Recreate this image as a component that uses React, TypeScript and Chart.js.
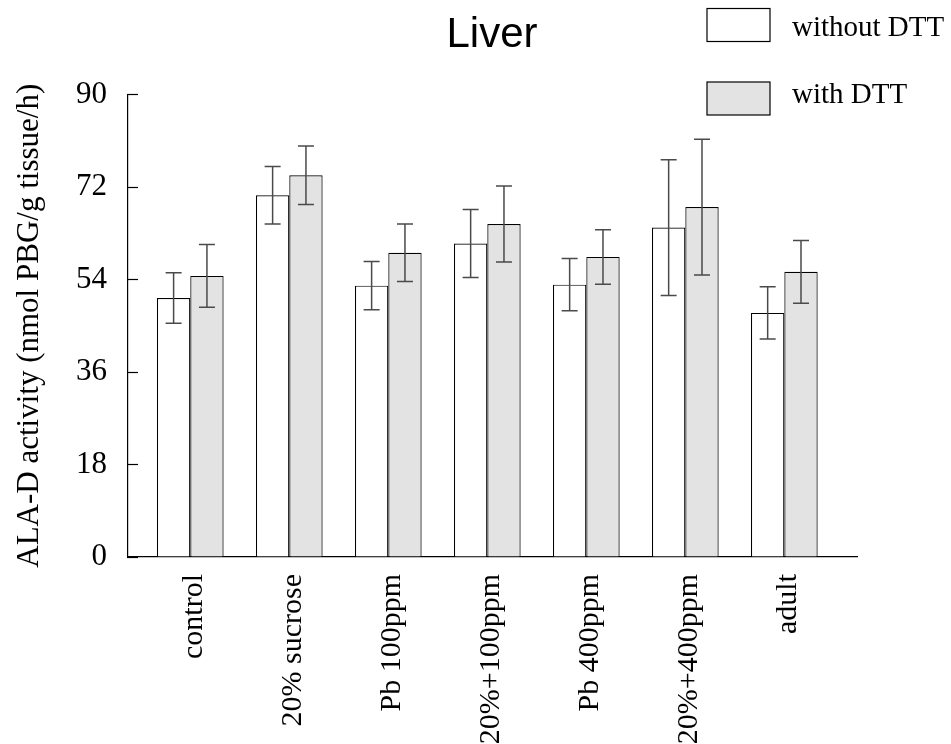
import { useEffect, useRef } from 'react';
import { Chart, registerables } from 'chart.js';

Chart.register(...registerables);

// Treatment groups along the x axis
const categories = ['control', '20% sucrose', 'Pb 100ppm', '20%+100ppm', 'Pb 400ppm', '20%+400ppm', 'adult'];

// Mean ALA-D activity and its error (± SD) for each treatment
const withoutDTT = [50.4, 70.4, 52.8, 61.0, 53.0, 64.1, 47.5];
const withoutDTTErr = [4.9, 5.6, 4.7, 6.6, 5.1, 13.2, 5.1];
const withDTT = [54.7, 74.3, 59.2, 64.8, 58.4, 68.1, 55.5];
const withDTTErr = [6.1, 5.7, 5.6, 7.4, 5.3, 13.2, 6.1];

const seriesLabels = ['without DTT', 'with DTT'];
const seriesFill = ['#ffffff', '#e3e3e3'];
const errorSets = [withoutDTTErr, withDTTErr];

const yMin = 0;
const yMax = 90;
const yStep = 18;

const chartTitle = 'Liver';
const yTitle = 'ALA-D activity (nmol PBG/g tissue/h)';

const SERIF = "'Liberation Serif', 'Times New Roman', serif";
const SANS = "'Liberation Sans', Arial, sans-serif";

// Vertical error bars with caps, centred on each bar
const errorBarsPlugin = {
  id: 'errorBars',
  afterDatasetsDraw(chart: any) {
    const { ctx } = chart;
    const y = chart.scales.y;
    ctx.save();
    ctx.strokeStyle = '#4a4a4a';
    ctx.lineWidth = 1.5;
    chart.data.datasets.forEach((ds: any, di: number) => {
      const meta = chart.getDatasetMeta(di);
      const errs = errorSets[di];
      meta.data.forEach((bar: any, i: number) => {
        const v = ds.data[i].y;
        const top = y.getPixelForValue(v + errs[i]);
        const bot = y.getPixelForValue(v - errs[i]);
        const cx = bar.x;
        const cap = 8;
        ctx.beginPath();
        ctx.moveTo(cx, top);
        ctx.lineTo(cx, bot);
        ctx.moveTo(cx - cap, top);
        ctx.lineTo(cx + cap, top);
        ctx.moveTo(cx - cap, bot);
        ctx.lineTo(cx + cap, bot);
        ctx.stroke();
      });
    });
    ctx.restore();
  },
};

// Chart heading and the boxed legend in the upper right corner
const headingPlugin = {
  id: 'heading',
  afterDraw(chart: any) {
    const { ctx } = chart;
    ctx.save();
    ctx.fillStyle = '#000';
    ctx.font = `42px ${SANS}`;
    ctx.textAlign = 'center';
    ctx.textBaseline = 'alphabetic';
    ctx.fillText(chartTitle, 492, 47);

    const boxX = 707;
    const boxW = 63;
    const boxH = 33;
    const rows = [8.5, 82];
    const baselines = [36, 103];
    chart.data.datasets.forEach((ds: any, i: number) => {
      ctx.fillStyle = ds.backgroundColor;
      ctx.fillRect(boxX, rows[i], boxW, boxH);
      ctx.strokeStyle = '#000';
      ctx.lineWidth = 1.2;
      ctx.strokeRect(boxX, rows[i], boxW, boxH);
      ctx.fillStyle = '#000';
      ctx.font = `29px ${SERIF}`;
      ctx.textAlign = 'left';
      ctx.fillText(ds.label, 792, baselines[i]);
    });
    ctx.restore();
  },
};

export default function App() {
  const canvasRef = useRef<HTMLCanvasElement | null>(null);

  useEffect(() => {
    const canvas = canvasRef.current;
    if (!canvas) return;

    const datasets = [withoutDTT, withDTT].map((values, si) => ({
      label: seriesLabels[si],
      data: values.map((v, i) => ({ x: i, y: v })),
      backgroundColor: seriesFill[si],
      borderColor: '#000',
      borderWidth: 1.2,
    }));

    const chart = new Chart(canvas, {
      type: 'bar',
      data: { datasets },
      plugins: [errorBarsPlugin, headingPlugin],
      options: {
        animation: false,
        responsive: false,
        events: [],
        layout: { padding: { top: 94.5, right: 93.3, bottom: 0, left: 0 } },
        datasets: {
          bar: { categoryPercentage: 0.6734, barPercentage: 1 },
        },
        plugins: {
          legend: { display: false },
          title: { display: false },
          tooltip: { enabled: false },
        },
        scales: {
          x: {
            type: 'linear',
            min: -0.629,
            max: 6.741,
            offset: false,
            grid: { display: false, drawTicks: false, offset: false },
            border: { display: true, color: '#000', width: 1.2 },
            ticks: {
              stepSize: 1,
              includeBounds: false,
              autoSkip: false,
              minRotation: 90,
              maxRotation: 90,
              padding: 17,
              labelOffset: 4,
              color: '#000',
              font: { family: SERIF, size: 30 },
              callback: (v: any) => categories[v as number] ?? '',
            },
            afterFit: (scale: any) => {
              scale.height = 187;
            },
          },
          y: {
            min: yMin,
            max: yMax,
            grid: {
              drawOnChartArea: false,
              drawTicks: true,
              tickLength: -10,
              tickColor: '#000',
              tickWidth: 1.2,
            },
            border: { display: true, color: '#000', width: 1.2 },
            ticks: {
              stepSize: yStep,
              padding: 31,
              color: '#000',
              font: { family: SERIF, size: 31 },
            },
            title: {
              display: true,
              text: yTitle,
              color: '#000',
              font: { family: SERIF, size: 31 },
              padding: { top: 11, bottom: 0 },
            },
            afterFit: (scale: any) => {
              scale.width = 128;
            },
          },
        },
      },
    });

    return () => chart.destroy();
  }, []);

  return (
    <div style={{ position: 'fixed', left: 0, top: 0, width: 951, height: 744, background: '#fff' }}>
      <canvas ref={canvasRef} width={951} height={744} style={{ display: 'block' }} />
    </div>
  );
}
